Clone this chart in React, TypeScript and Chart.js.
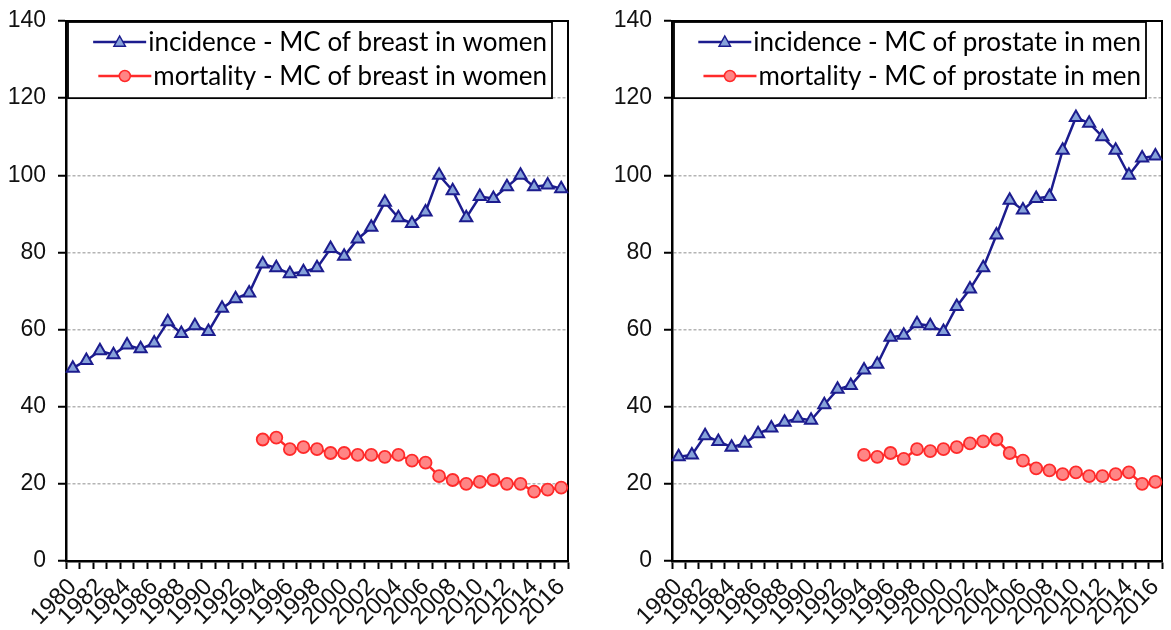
import React, { useEffect, useRef } from 'react';
import { Chart, registerables } from 'chart.js';

Chart.register(...registerables);

const years: string[] = [
  '1980', '1981', '1982', '1983', '1984', '1985', '1986', '1987', '1988', '1989',
  '1990', '1991', '1992', '1993', '1994', '1995', '1996', '1997', '1998', '1999',
  '2000', '2001', '2002', '2003', '2004', '2005', '2006', '2007', '2008', '2009',
  '2010', '2011', '2012', '2013', '2014', '2015', '2016',
];

const breastIncidence: number[] = [
  50, 52, 54.5, 53.5, 56, 55, 56.5, 62, 59, 61,
  59.5, 65.5, 68, 69.5, 77, 76, 74.5, 75, 76, 81,
  79, 83.5, 86.5, 93, 89, 87.5, 90.5, 100, 96, 89,
  94.5, 94, 97, 100, 97, 97.5, 96.5,
];

const breastMortality: (number | null)[] = [
  null, null, null, null, null, null, null, null, null, null,
  null, null, null, null, 31.5, 32, 29, 29.5, 29, 28,
  28, 27.5, 27.5, 27, 27.5, 26, 25.5, 22, 21, 20,
  20.5, 21, 20, 20, 18, 18.5, 19,
];

const prostateIncidence: number[] = [
  27, 27.5, 32.5, 31, 29.5, 30.5, 33, 34.5, 36, 37,
  36.5, 40.5, 44.5, 45.5, 49.5, 51, 58, 58.5, 61.5, 61,
  59.5, 66, 70.5, 76, 84.5, 93.5, 91, 94, 94.5, 106.5,
  115, 113.5, 110, 106.5, 100, 104.5, 105,
];

const prostateMortality: (number | null)[] = [
  null, null, null, null, null, null, null, null, null, null,
  null, null, null, null, 27.5, 27, 28, 26.5, 29, 28.5,
  29, 29.5, 30.5, 31, 31.5, 28, 26, 24, 23.5, 22.5,
  23, 22, 22, 22.5, 23, 20, 20.5,
];

const breastLabels = ['incidence - MC of breast in women', 'mortality - MC of breast in women'];
const prostateLabels = ['incidence - MC of prostate in men', 'mortality - MC of prostate in men'];

const Y_MIN = 0;
const Y_MAX = 140;
const Y_STEP = 20;

const NAVY = '#1c1c8e';
const TRI_FILL = '#86a2da';
const RED = '#ff2a2a';
const CIRC_FILL = '#ff8585';

const NUM_FONT = "'Liberation Sans Narrow', 'Liberation Sans', Arial, sans-serif";
const LEG_FONT = "Lato, 'Liberation Sans', sans-serif";

const decorPlugin = {
  id: 'panelDecor',
  beforeDatasetsDraw(chart: any) {
    const { ctx, chartArea: a } = chart;
    ctx.save();
    ctx.strokeStyle = '#000';
    ctx.lineWidth = 2;
    ctx.strokeRect(a.left, a.top, a.right - a.left, a.bottom - a.top);
    ctx.restore();
  },
  afterDatasetsDraw(chart: any, _args: any, opts: any) {
    const { ctx, chartArea: a } = chart;
    const yScale = chart.scales.y;
    const boxL = a.left + 2;
    const boxT = a.top + 1;
    const boxR = a.right - (opts.rightGap || 16);
    const boxB = yScale.getPixelForValue(120);
    ctx.save();
    ctx.fillStyle = '#fff';
    ctx.fillRect(boxL, boxT, boxR - boxL, boxB - boxT);
    ctx.strokeStyle = '#000';
    ctx.lineWidth = 1.8;
    ctx.strokeRect(boxL, boxT, boxR - boxL, boxB - boxT);
    ctx.font = `26px ${LEG_FONT}`;
    ctx.textBaseline = 'middle';
    ctx.textAlign = 'left';
    chart.data.datasets.forEach((ds: any, i: number) => {
      const cy = boxT + 20 + i * 34;
      const tw = ctx.measureText(ds.label).width;
      const tx = boxR - 5 - tw;
      const lx1 = tx - 55;
      const lx2 = tx - 2;
      ctx.strokeStyle = ds.borderColor;
      ctx.lineWidth = 2.5;
      ctx.beginPath();
      ctx.moveTo(lx1, cy);
      ctx.lineTo(lx2, cy);
      ctx.stroke();
      const mx = (lx1 + lx2) / 2;
      ctx.fillStyle = ds.pointBackgroundColor;
      ctx.strokeStyle = ds.pointBorderColor;
      ctx.lineWidth = 1.5;
      ctx.beginPath();
      if (ds.pointStyle === 'triangle') {
        const r = 6;
        ctx.moveTo(mx, cy - r);
        ctx.lineTo(mx + r * 0.95, cy + r * 0.7);
        ctx.lineTo(mx - r * 0.95, cy + r * 0.7);
        ctx.closePath();
      } else {
        ctx.arc(mx, cy, 5.5, 0, Math.PI * 2);
      }
      ctx.fill();
      ctx.stroke();
      ctx.fillStyle = '#000';
      ctx.fillText(ds.label, tx, cy + 1);
    });
    ctx.restore();
  },
};

type PanelProps = {
  incidence: (number | null)[];
  mortality: (number | null)[];
  labels: string[];
  width: number;
  yAxisWidth: number;
  rightPad: number;
  left: number;
};

function Panel({ incidence, mortality, labels, width, yAxisWidth, rightPad, left }: PanelProps) {
  const ref = useRef<HTMLCanvasElement | null>(null);
  useEffect(() => {
    if (!ref.current) return;
    const chart = new Chart(ref.current, {
      type: 'line',
      data: {
        labels: years,
        datasets: [
          {
            label: labels[0],
            data: incidence,
            borderColor: NAVY,
            borderWidth: 2.5,
            pointStyle: 'triangle',
            pointRadius: 7,
            pointBackgroundColor: TRI_FILL,
            pointBorderColor: NAVY,
            pointBorderWidth: 2,
            tension: 0,
            fill: false,
          },
          {
            label: labels[1],
            data: mortality,
            borderColor: RED,
            borderWidth: 2.5,
            pointStyle: 'circle',
            pointRadius: 6,
            pointBackgroundColor: CIRC_FILL,
            pointBorderColor: RED,
            pointBorderWidth: 1.8,
            tension: 0,
            fill: false,
            spanGaps: false,
          },
        ],
      } as any,
      options: {
        responsive: false,
        animation: false,
        events: [],
        layout: { padding: { top: 21, right: rightPad, left: 0, bottom: 0 } },
        plugins: {
          legend: { display: false },
          tooltip: { enabled: false },
          panelDecor: { rightGap: 16 },
        } as any,
        scales: {
          x: {
            type: 'category',
            offset: true,
            grid: {
              display: true,
              drawOnChartArea: false,
              offset: true,
              drawTicks: true,
              tickLength: 8,
              tickColor: '#000',
              tickWidth: 2,
              color: '#000',
            },
            border: { display: true, color: '#000', width: 2.5 },
            ticks: {
              autoSkip: false,
              maxRotation: 45,
              minRotation: 45,
              padding: 4,
              color: '#111',
              font: { family: NUM_FONT, size: 24 },
              callback: (_v: any, i: number) => (parseInt(years[i], 10) % 2 === 0 ? years[i] : ''),
            },
            afterFit: (s: any) => {
              s.height = 69;
              s.paddingLeft = 0;
              s.paddingRight = 0;
            },
          },
          y: {
            min: Y_MIN,
            max: Y_MAX,
            ticks: {
              stepSize: Y_STEP,
              padding: 12,
              color: '#111',
              font: { family: NUM_FONT, size: 23 },
            },
            grid: {
              color: '#b4b4b4',
              lineWidth: 1.5,
              tickColor: '#000',
              tickLength: 8,
              tickWidth: 2,
            },
            border: { display: true, color: '#000', width: 2.5, dash: [3, 2] },
            afterFit: (s: any) => {
              s.width = yAxisWidth;
              s.paddingTop = 0;
              s.paddingBottom = 0;
            },
          },
        },
      } as any,
      plugins: [decorPlugin],
    });
    return () => chart.destroy();
  }, []);
  return (
    <canvas
      ref={ref}
      width={width}
      height={630}
      style={{ position: 'absolute', left, top: 0, width, height: 630 }}
    />
  );
}

export default function App() {
  return (
    <div style={{ position: 'absolute', left: 0, top: 0, width: 1171, height: 630, background: '#fff' }}>
      <Panel
        incidence={breastIncidence}
        mortality={breastMortality}
        labels={breastLabels}
        width={585}
        yAxisWidth={66}
        rightPad={17}
        left={0}
      />
      <Panel
        incidence={prostateIncidence}
        mortality={prostateMortality}
        labels={prostateLabels}
        width={586}
        yAxisWidth={87}
        rightPad={6}
        left={585}
      />
    </div>
  );
}
